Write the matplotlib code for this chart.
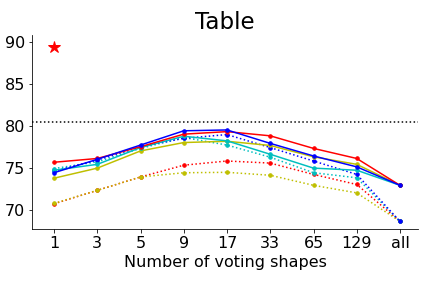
import numpy as np
import matplotlib
matplotlib.use('Agg')
import matplotlib.pyplot as plt

labels = ['1', '3', '5', '9', '17', '33', '65', '129', 'all']

# solid lines
red_solid = [75.65, 76.1, 77.5, 79.0, 79.3, 78.8, 77.3, 76.1, 72.9]
blue_solid = [74.4, 76.0, 77.7, 79.4, 79.5, 77.9, 76.4, 75.1, 72.9]
cyan_solid = [74.7, 75.4, 77.4, 78.75, 78.2, 76.6, 74.95, 74.7, 72.9]
yellow_solid = [73.75, 74.95, 77.0, 78.0, 78.15, 77.65, 76.3, 75.4, 72.9]

# dotted lines
red_dot = [70.7, 72.3, 73.9, 75.3, 75.8, 75.55, 74.2, 73.0, 68.6]
blue_dot = [74.6, 75.9, 77.5, 78.5, 78.95, 77.4, 75.8, 74.2, 68.6]
cyan_dot = [74.9, 75.7, 77.3, 78.6, 77.7, 76.25, 74.4, 73.8, 68.6]
yellow_dot = [70.75, 72.3, 73.9, 74.4, 74.45, 74.1, 72.9, 72.0, 68.6]

baseline = 80.5
star_val = 89.35

plt.figure(figsize=(6, 4), dpi=72)
ax = plt.gca()
x = np.arange(len(labels))

ax.plot(x, red_dot, 'r:', marker='o', markersize=3.5)
ax.plot(x, yellow_dot, 'y:', marker='o', markersize=3.5)
ax.plot(x, cyan_dot, 'c:', marker='o', markersize=3.5)
ax.plot(x, blue_dot, 'b:', marker='o', markersize=3.5)
ax.plot(x, yellow_solid, 'y-', marker='o', markersize=3.5)
ax.plot(x, cyan_solid, 'c-', marker='o', markersize=3.5)
ax.plot(x, red_solid, 'r-', marker='o', markersize=3.5)
ax.plot(x, blue_solid, 'b-', marker='o', markersize=3.5)

ax.axhline(baseline, color='k', linestyle=':')
ax.plot([0], [star_val], 'r*', markersize=12)

ax.set_xticks(x)
ax.set_xticklabels(labels, fontsize=16)
ax.tick_params(axis='y', labelsize=16)
ax.set_yticks([70, 75, 80, 85, 90])
ax.set_ylim(67.7, 90.8)
ax.set_xlim(-0.51, 8.42)
ax.set_xlabel('Number of voting shapes', fontsize=16)
ax.set_title('Table', fontsize=23)
ax.spines['top'].set_visible(False)
ax.spines['right'].set_visible(False)

plt.subplots_adjust(left=0.074, right=0.968, bottom=0.205, top=0.878)
plt.savefig('out.png', dpi=72)
